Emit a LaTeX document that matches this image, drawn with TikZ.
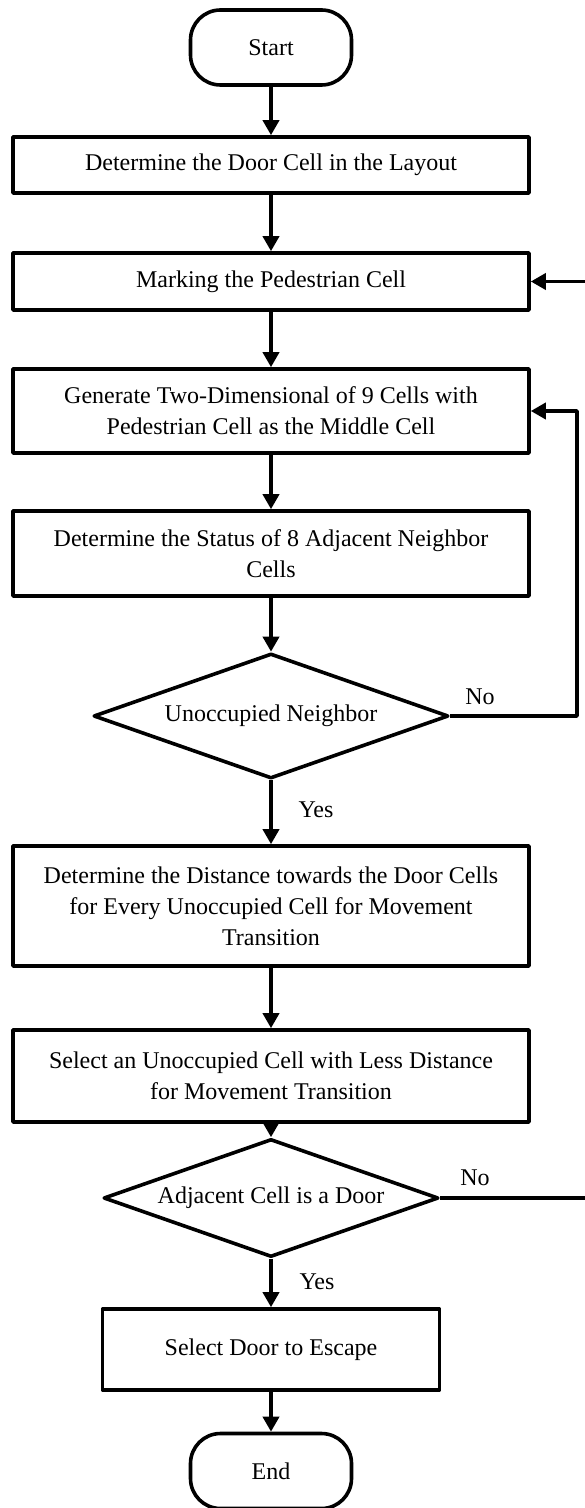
\documentclass[tikz,border=0pt]{standalone}
\usepackage{fontspec}
\setmainfont{Liberation Serif}
\usetikzlibrary{shapes.geometric,arrows.meta}
\definecolor{ink}{HTML}{000000}
\tikzset{
  base/.style={draw=ink, line width=1.8pt, line join=round},
  proc/.style={base, rectangle, minimum width=258pt, align=center, inner sep=2pt,
    font=\fontsize{12}{15.5}\selectfont},
  term/.style={base, rectangle, rounded corners=15pt, minimum width=80.5pt,
    minimum height=37.5pt, font=\fontsize{12}{15.5}\selectfont},
  dec/.style={base, diamond, aspect=2.84, inner sep=0pt, font=\fontsize{12}{15.5}\selectfont},
  flow/.style={draw=ink, line width=1.8pt, line join=round,
    -{Triangle[width=8pt,length=7.5pt]}},
  lab/.style={text=ink, font=\fontsize{12}{15.5}\selectfont},
}
\begin{document}
\begin{tikzpicture}[x=0.5pt,y=-0.5pt]
  \useasboundingbox (0,0) rectangle (584,1508);
  % loop lines on the right
  \coordinate (loopA) at (577,0);
  \coordinate (loopB) at (590,0); % outside the page, as in the figure

  \node[term] (start) at (271,47.5) {Start};
  \node[proc, minimum height=28pt] (door) at (271,165) {Determine the Door Cell in the Layout};
  \node[proc, minimum height=28.5pt] (mark) at (271,281.5) {Marking the Pedestrian Cell};
  \node[proc, minimum height=42pt] (grid) at (271,411)
    {Generate Two-Dimensional of 9 Cells with\\Pedestrian Cell as the Middle Cell};
  \node[proc, minimum height=42.5pt] (status) at (271,553.5)
    {Determine the Status of 8 Adjacent Neighbor\\Cells};
  \node[dec, minimum width=177.5pt, minimum height=62.5pt] (free) at (271,716)
    {Unoccupied Neighbor};
  \node[proc, minimum height=60pt] (dist) at (271,906)
    {Determine the Distance towards the Door Cells\\for Every Unoccupied Cell for Movement\\Transition};
  \node[proc, minimum height=46pt] (pick) at (271,1076)
    {Select an Unoccupied Cell with Less Distance\\for Movement Transition};
  \node[dec, minimum width=167.5pt, minimum height=59pt] (isdoor) at (271,1198)
    {Adjacent Cell is a Door};
  \node[proc, minimum width=168.5pt, minimum height=40.5pt] (escape) at (271,1349.5)
    {Select Door to Escape};
  \node[term] (end) at (271,1471) {End};

  \draw[flow] (start) -- (door);
  \draw[flow] (door) -- (mark);
  \draw[flow] (mark) -- (grid);
  \draw[flow] (grid) -- (status);
  \draw[flow] (status) -- (free);
  \draw[flow] (free) -- (dist);
  \draw[flow] (dist) -- (pick);
  \draw[flow] (pick) -- (isdoor);
  \draw[flow] (isdoor) -- (escape);
  \draw[flow] (escape) -- (end);

  \draw[flow] (free.east) -- (free.east -| loopA) -- (grid.east -| loopA) -- (grid.east);
  \draw[flow] (isdoor.east) -- (isdoor.east -| loopB) -- (mark.east -| loopB) -- (mark.east);

  \node[lab] (no1) at (480,697) {No};
  \node[lab] (yes1) at (316,810) {Yes};
  \node[lab] (no2) at (475,1178) {No};
  \node[lab] (yes2) at (317,1282) {Yes};
\end{tikzpicture}
\end{document}
